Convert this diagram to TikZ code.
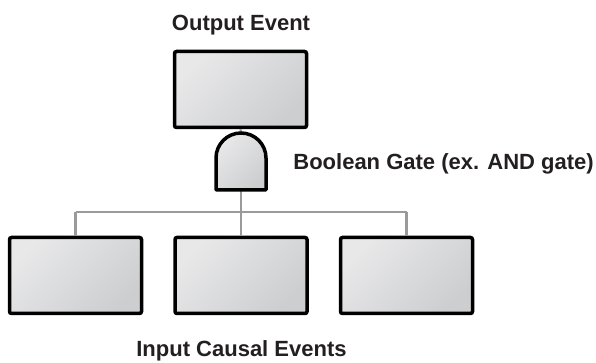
\documentclass[tikz,border=0pt]{standalone}
\usepackage{fontspec}
\setmainfont{Liberation Sans}
\usepackage{tikz}

\definecolor{boxlight}{HTML}{E8E8E9}
\definecolor{boxdark}{HTML}{CDCED0}
\definecolor{linkgray}{HTML}{9A9A9A}
\definecolor{labelink}{HTML}{231F20}

\tikzset{
  event/.style={draw=black, line width=1.75pt, rounded corners=1pt,
    top color=boxlight, bottom color=boxdark, shading angle=45,
    minimum width=66pt, minimum height=38pt, inner sep=0pt},
  gatebody/.style={draw=black, line width=1.75pt, line join=round,
    top color=boxlight, bottom color=boxdark, shading angle=45},
  link/.style={draw=linkgray, line width=1.1pt},
  caption/.style={text=labelink, font=\fontsize{11}{13}\selectfont\bfseries, inner sep=0pt}
}

\begin{document}
\begin{tikzpicture}[x=0.5pt,y=0.5pt]
 \useasboundingbox (0,0) rectangle (596,363);

 \path (240.5,273.5) node[event](out){};
 \path (75.5,87.5) node[event](in1){};
 \path (241,87.5) node[event](in2){};
 \path (406.5,87.5) node[event](in3){};

 \coordinate (gtop) at (241,230);
 \coordinate (gbot) at (241,173);
 \coordinate (bus) at (241,151);

 \draw[link] (out.south) -- (gtop);
 \draw[link] (gbot) -- (bus);
 \draw[link] (in1.north |- bus) -- (in3.north |- bus);
 \draw[link] (in1.north |- bus) -- (in1.north);
 \draw[link] (bus) -- (in2.north);
 \draw[link] (in3.north |- bus) -- (in3.north);

 \path[gatebody] (216,173) -- (216,205) arc (180:0:25) -- (266,173) -- cycle;

 \path (241,332) node[caption, anchor=base](outlabel){Output Event};
 \path (293,193) node[caption, anchor=base west](gatelabel){Boolean Gate (ex. AND gate)};
 \path (241.5,6) node[caption, anchor=base](inlabel){Input Causal Events};
\end{tikzpicture}
\end{document}
